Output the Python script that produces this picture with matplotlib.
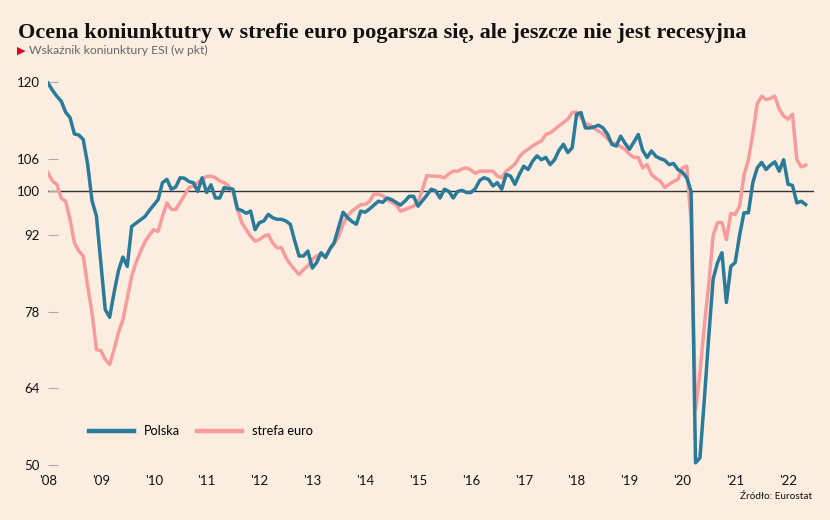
import matplotlib
matplotlib.use("Agg")
import matplotlib.pyplot as plt
import numpy as np

# ESI, monthly, Jan 2008 - May 2022
polska = [
    119.8, 118.5, 117.4, 116.5, 114.5, 113.5, 110.5, 110.3, 109.5, 105.0, 98.3, 95.5,   # 2008
    87.0, 78.4, 77.0, 81.5, 85.5, 88.0, 86.3, 93.6, 94.2, 94.8, 95.4, 96.5,             # 2009
    97.5, 98.5, 101.6, 102.2, 100.4, 100.8, 102.5, 102.4, 101.8, 101.6, 100.0, 102.5,   # 2010
    99.8, 101.2, 98.8, 98.8, 100.7, 100.5, 100.4, 96.8, 96.5, 96.0, 96.4, 93.0,         # 2011
    94.3, 94.6, 95.8, 95.2, 94.9, 94.9, 94.6, 94.0, 91.0, 88.2, 88.2, 89.1,             # 2012
    86.0, 87.0, 88.8, 87.9, 89.5, 90.7, 93.5, 96.2, 95.2, 94.5, 94.0, 96.4,             # 2013
    96.2, 96.8, 97.5, 98.2, 98.0, 98.8, 98.5, 98.0, 97.5, 98.2, 99.1, 99.1,             # 2014
    97.3, 98.3, 99.3, 100.4, 100.1, 98.8, 100.4, 100.0, 98.8, 100.0, 100.2, 99.8,       # 2015
    99.8, 100.5, 102.0, 102.5, 102.2, 101.0, 101.6, 100.4, 103.1, 102.8, 101.3, 103.1,  # 2016
    104.6, 104.0, 105.5, 106.5, 105.8, 106.2, 104.9, 105.8, 107.5, 108.6, 107.1, 108.0, # 2017
    114.1, 114.4, 111.6, 111.6, 111.8, 112.1, 111.6, 110.5, 108.6, 108.3, 110.1, 108.8, # 2018
    107.7, 109.0, 110.4, 107.5, 106.2, 107.4, 106.4, 106.0, 105.7, 104.9, 105.1, 104.0, # 2019
    103.5, 102.5, 100.0, 50.4, 51.3, 62.0, 73.5, 84.0, 87.0, 88.8, 79.7, 86.3,          # 2020
    87.0, 92.0, 96.1, 96.1, 101.6, 104.3, 105.3, 104.0, 104.8, 105.4, 103.7, 105.8,     # 2021
    101.3, 101.1, 97.9, 98.2, 97.6,                                                     # 2022
]
strefa_euro = [
    103.4, 101.9, 101.3, 98.8, 98.2, 94.9, 90.6, 89.1, 88.2, 82.7, 77.8, 71.1,          # 2008
    70.9, 69.3, 68.4, 71.1, 74.2, 76.5, 80.5, 84.5, 87.0, 89.0, 90.8, 92.0,             # 2009
    93.0, 92.7, 95.5, 97.9, 96.7, 96.7, 98.0, 99.3, 100.7, 101.0, 101.6, 102.2,         # 2010
    102.7, 102.8, 102.5, 101.9, 101.6, 101.0, 100.0, 96.7, 94.3, 93.0, 91.8, 90.9,      # 2011
    91.2, 91.8, 92.1, 90.6, 89.7, 89.7, 87.9, 86.7, 85.7, 84.8, 85.7, 86.4,             # 2012
    87.6, 88.2, 88.5, 88.2, 89.4, 90.5, 91.8, 94.0, 95.5, 96.4, 97.0, 97.6,             # 2013
    97.6, 98.2, 99.5, 99.5, 99.2, 98.5, 98.0, 97.6, 96.4, 96.7, 97.0, 97.3,             # 2014
    98.0, 100.4, 102.9, 102.8, 102.8, 102.7, 102.5, 103.2, 103.7, 103.7, 104.1, 104.3,  # 2015
    103.9, 103.3, 103.7, 103.7, 103.7, 103.7, 102.8, 102.5, 103.7, 104.3, 105.0, 106.3, # 2016
    107.2, 107.7, 108.3, 108.8, 109.2, 110.4, 110.7, 111.3, 112.0, 112.6, 113.2, 114.4, # 2017
    114.5, 113.5, 112.3, 112.2, 111.5, 111.0, 110.5, 109.6, 108.9, 108.6, 108.2, 107.7, # 2018
    106.8, 106.2, 106.2, 104.3, 104.9, 103.1, 102.4, 101.9, 100.7, 101.3, 101.8, 102.2, # 2019
    104.3, 104.6, 94.5, 60.1, 66.9, 75.5, 83.0, 92.0, 94.3, 94.3, 91.2, 96.0,           # 2020
    95.8, 97.3, 103.0, 105.8, 110.5, 116.0, 117.4, 116.8, 117.0, 117.4, 115.0, 113.8,   # 2021
    113.2, 114.1, 105.8, 104.5, 104.8,                                                  # 2022
]
year_labels = ["'08", "'09", "'10", "'11", "'12", "'13", "'14", "'15",
               "'16", "'17", "'18", "'19", "'20", "'21", "'22"]
y_ticks = [50, 64, 78, 92, 100, 106, 120]

bg = "#fcede1"
blue = "#2a7a9a"
pink = "#f79c9c"
plt.rcParams['font.family'] = ['Lato', 'DejaVu Sans']

fig = plt.figure(figsize=(8.3, 5.2), dpi=100, facecolor=bg)
ax = fig.add_axes([0.0578, 0.0952, 0.9235, 0.7577])
ax.set_facecolor(bg)

months = np.arange(len(polska))
ax.axhline(100, color="#333333", lw=1.0, zorder=1)
ax.plot(months, strefa_euro, color=pink, lw=2.5, label="strefa euro",
        solid_joinstyle="round", zorder=2)
ax.plot(months, polska, color=blue, lw=2.5, label="Polska",
        solid_joinstyle="round", zorder=3)

ax.set_xlim(0, 174)
ax.set_ylim(49, 121)
for s in ax.spines.values():
    s.set_visible(False)

ax.set_yticks(y_ticks)
ax.set_yticklabels([str(v) for v in y_ticks])
ax.tick_params(axis="y", direction="in", length=7, width=0.8, color="#aaaaaa",
               labelsize=9.5, pad=6, labelcolor="#111111")
ax.set_xticks(np.arange(len(year_labels)) * 12)
ax.set_xticklabels(year_labels)
ax.tick_params(axis="x", length=0, labelsize=9.5, pad=3, labelcolor="#111111")

handles, labels = ax.get_legend_handles_labels()
leg = ax.legend(handles[::-1], labels[::-1], loc="center left",
                bbox_to_anchor=(0.054, 0.10), ncol=2, frameon=False,
                fontsize=9.2, handlelength=3.5, handletextpad=0.8,
                columnspacing=1.3, borderaxespad=0, borderpad=0)
for line in leg.get_lines():
    line.set_linewidth(3.2)

fig.text(0.022, 0.937, "Ocena koniunktutry w strefie euro pogarsza się, ale jeszcze nie jest recesyjna",
         family="Liberation Serif", weight="bold", fontsize=16.0, color="#111111",
         va="center", ha="left")
fig.text(0.021, 0.903, "\u25B6", color="#e3001b", fontsize=8, va="center", ha="left",
         family="DejaVu Sans")
fig.text(0.035, 0.903, "Wskaźnik koniunktury ESI (w pkt)", color="#666666",
         fontsize=8.7, va="center", ha="left")
fig.text(0.978, 0.046, "Źródło: Eurostat", color="#111111", fontsize=7.2,
         va="center", ha="right")

fig.savefig("out.png", dpi=100, facecolor=bg)
